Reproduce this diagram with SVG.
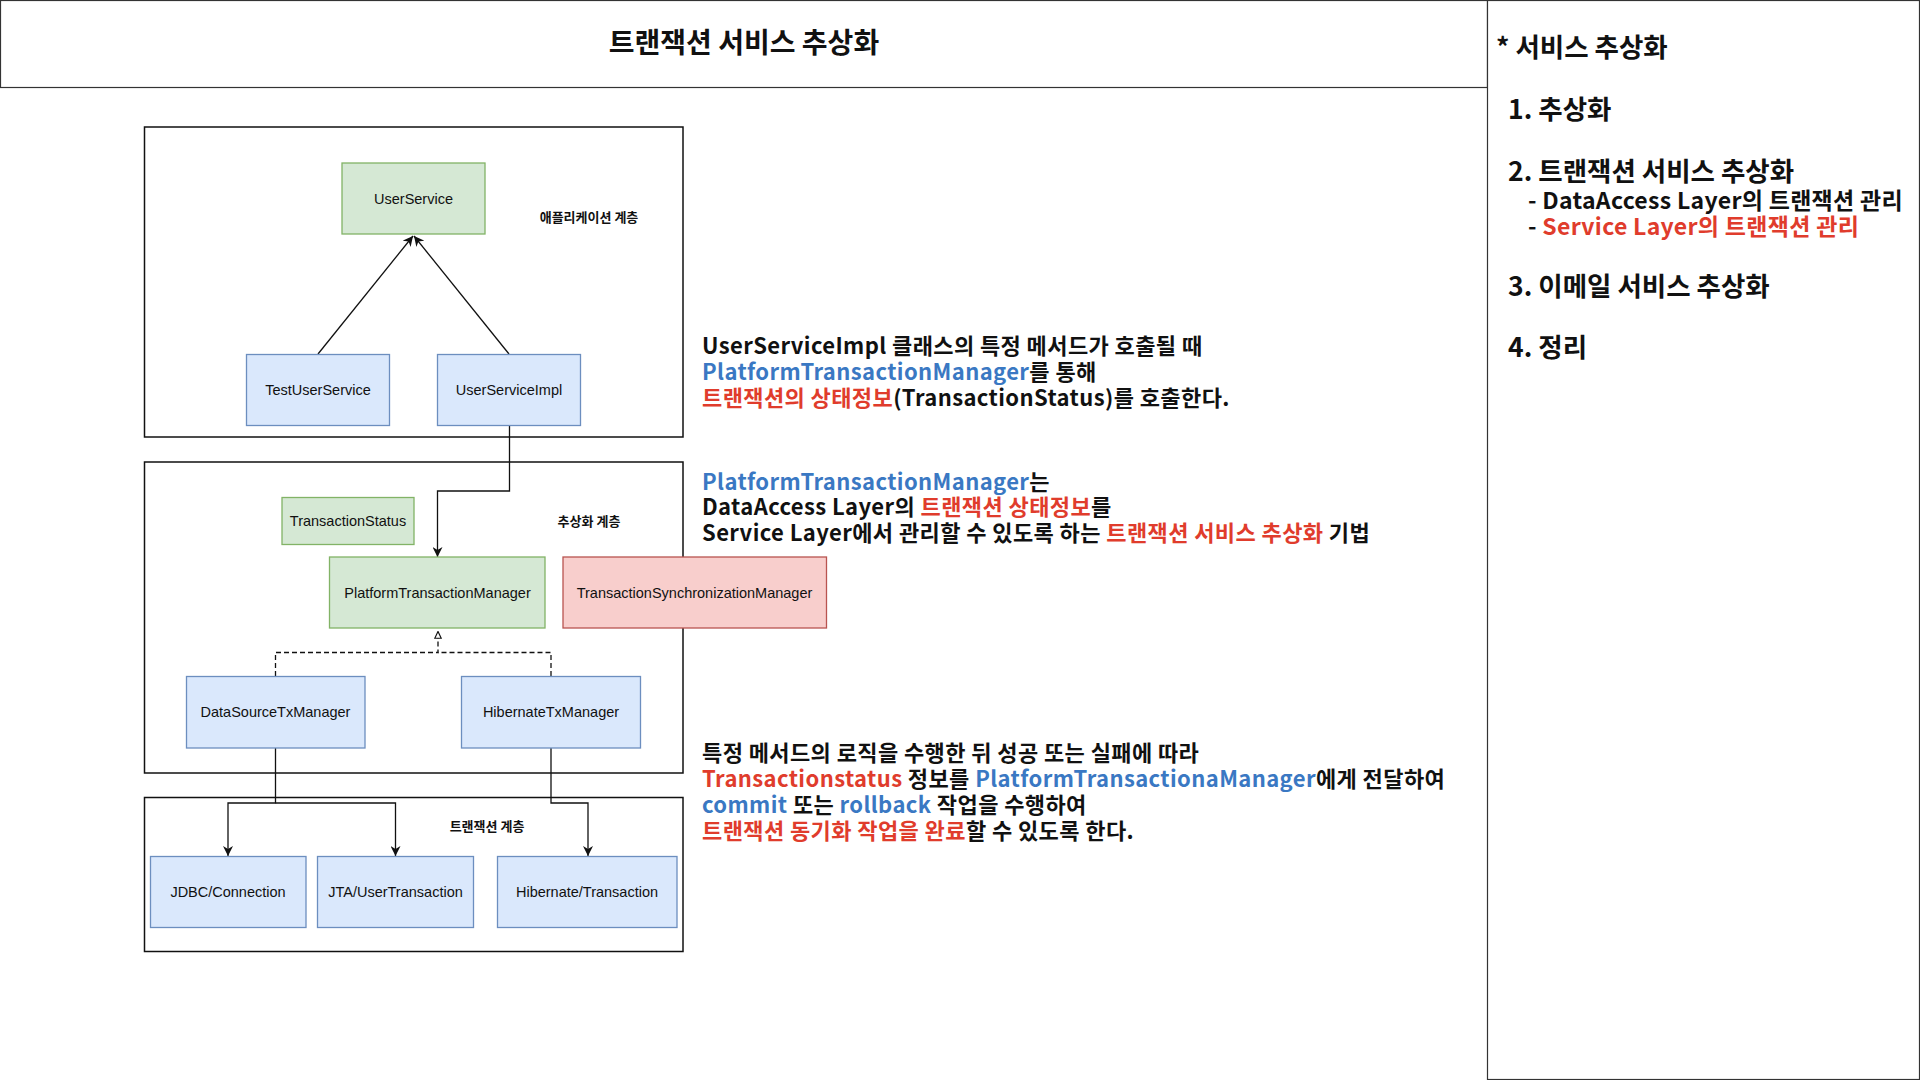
<svg xmlns="http://www.w3.org/2000/svg" width="1920" height="1080" viewBox="0 0 1920 1080">
  <style>
    .frame { fill: #ffffff; stroke: #333333; stroke-width: 1.2; }
    .layer { fill: none; stroke: #111111; stroke-width: 1.5; }
    .green { fill: #d5e8d4; stroke: #82b366; stroke-width: 1.3; }
    .blue { fill: #dae8fc; stroke: #6c8ebf; stroke-width: 1.3; }
    .red { fill: #f8cecc; stroke: #b85450; stroke-width: 1.3; }
    .lbl { font-family: "Liberation Sans", Arial, sans-serif; font-size: 14.5px; fill: #111111; text-anchor: middle; }
    .layer-lbl { font-family: "Noto Sans CJK KR", sans-serif; font-weight: 700; font-size: 13px; fill: #111111; text-anchor: middle; }
    .note { font-family: "Noto Sans CJK KR", sans-serif; font-weight: 700; font-size: 22px; letter-spacing: 0.4px; fill: #111111; }
    .sub { font-family: "Noto Sans CJK KR", sans-serif; font-weight: 700; font-size: 23px; letter-spacing: 0.3px; fill: #111111; }
    .head { font-family: "Noto Sans CJK KR", sans-serif; font-weight: 700; font-size: 26.5px; fill: #111111; }
    .title { font-family: "Noto Sans CJK KR", sans-serif; font-weight: 700; font-size: 28px; fill: #111111; text-anchor: middle; }
    .b { fill: #3a78c3; }
    .r { fill: #e03c2c; }
    .edge { fill: none; stroke: #111111; stroke-width: 1.3; }
    .dash { stroke-dasharray: 5 3; }
  </style>
  <defs>
    <marker id="arrow" viewBox="0 0 10 10" refX="10" refY="5" markerWidth="10" markerHeight="10" markerUnits="userSpaceOnUse" orient="auto">
      <path d="M0,0 L10,5 L0,10 L3,5 z" fill="#111111"/>
    </marker>
    <marker id="realize" viewBox="0 0 10 10" refX="10" refY="5" markerWidth="9" markerHeight="8" markerUnits="userSpaceOnUse" orient="auto">
      <path d="M1,1 L9.5,5 L1,9 z" fill="#ffffff" stroke="#111111" stroke-width="1.4"/>
    </marker>
  </defs>

  <rect width="1920" height="1080" fill="#ffffff"/>

  <!-- page frame: title bar and side index panel -->
  <rect class="frame" x="0.5" y="0.5" width="1487" height="87"/>
  <rect class="frame" x="1487.5" y="0.5" width="432" height="1079"/>
  <text class="title" x="744" y="53">트랜잭션 서비스 추상화</text>

  <!-- layer containers -->
  <g id="layer-application">
    <rect class="layer" x="144.5" y="127" width="538.5" height="310"/>
    <text class="layer-lbl" x="589" y="222">애플리케이션 계층</text>
  </g>
  <g id="layer-abstraction">
    <rect class="layer" x="144.5" y="462" width="538.5" height="311"/>
    <text class="layer-lbl" x="589" y="526">추상화 계층</text>
  </g>
  <g id="layer-transaction">
    <rect class="layer" x="144.5" y="797.5" width="538.5" height="154"/>
    <text class="layer-lbl" x="487" y="831">트랜잭션 계층</text>
  </g>

  <!-- connectors -->
  <g id="connectors">
    <path class="edge" d="M318,354 L413,236" marker-end="url(#arrow)"/>
    <path class="edge" d="M509,354 L414,236" marker-end="url(#arrow)"/>
    <path class="edge" d="M509.5,426 V491 H437.5 V557" marker-end="url(#arrow)"/>
    <path class="edge dash" d="M275.5,676 V652.5 H438 V631" marker-end="url(#realize)"/>
    <path class="edge dash" d="M551,676 V652.5 H438"/>
    <path class="edge" d="M275.5,748 V803 H228 V856" marker-end="url(#arrow)"/>
    <path class="edge" d="M275.5,803 H395.5 V856" marker-end="url(#arrow)"/>
    <path class="edge" d="M551,748 V803 H588 V856" marker-end="url(#arrow)"/>
  </g>

  <!-- nodes -->
  <g id="user-service">
    <rect class="green" x="342" y="163" width="143" height="71"/>
    <text class="lbl" x="413.5" y="203.5">UserService</text>
  </g>
  <g id="test-user-service">
    <rect class="blue" x="246.5" y="354.5" width="143" height="71"/>
    <text class="lbl" x="318" y="395">TestUserService</text>
  </g>
  <g id="user-service-impl">
    <rect class="blue" x="437.5" y="354.5" width="143" height="71"/>
    <text class="lbl" x="509" y="395">UserServiceImpl</text>
  </g>
  <g id="transaction-status">
    <rect class="green" x="282" y="497.5" width="132" height="47"/>
    <text class="lbl" x="348" y="526">TransactionStatus</text>
  </g>
  <g id="platform-transaction-manager">
    <rect class="green" x="329.5" y="557" width="215.5" height="71"/>
    <text class="lbl" x="437.5" y="597.5">PlatformTransactionManager</text>
  </g>
  <g id="transaction-synchronization-manager">
    <rect class="red" x="563" y="557" width="263.5" height="71"/>
    <text class="lbl" x="694.5" y="597.5">TransactionSynchronizationManager</text>
  </g>
  <g id="datasource-tx-manager">
    <rect class="blue" x="186.5" y="676.5" width="178.5" height="71.5"/>
    <text class="lbl" x="275.5" y="717">DataSourceTxManager</text>
  </g>
  <g id="hibernate-tx-manager">
    <rect class="blue" x="461.5" y="676.5" width="179" height="71.5"/>
    <text class="lbl" x="551" y="717">HibernateTxManager</text>
  </g>
  <g id="jdbc-connection">
    <rect class="blue" x="150.5" y="856.5" width="155.5" height="71"/>
    <text class="lbl" x="228" y="897">JDBC/Connection</text>
  </g>
  <g id="jta-user-transaction">
    <rect class="blue" x="317.5" y="856.5" width="156" height="71"/>
    <text class="lbl" x="395.5" y="897">JTA/UserTransaction</text>
  </g>
  <g id="hibernate-transaction">
    <rect class="blue" x="497.5" y="856.5" width="179.5" height="71"/>
    <text class="lbl" x="587" y="897">Hibernate/Transaction</text>
  </g>

  <!-- explanatory notes -->
  <g id="note-call">
    <text class="note" x="702" y="354">UserServiceImpl 클래스의 특정 메서드가 호출될 때</text>
    <text class="note" x="702" y="380"><tspan class="b">PlatformTransactionManager</tspan>를 통해</text>
    <text class="note" x="702" y="406"><tspan class="r">트랜잭션의 상태정보</tspan>(TransactionStatus)를 호출한다.</text>
  </g>
  <g id="note-abstraction">
    <text class="note" x="702" y="490"><tspan class="b">PlatformTransactionManager</tspan>는</text>
    <text class="note" x="702" y="515">DataAccess Layer의 <tspan class="r">트랜잭션 상태정보</tspan>를</text>
    <text class="note" x="702" y="541">Service Layer에서 관리할 수 있도록 하는 <tspan class="r">트랜잭션 서비스 추상화</tspan> 기법</text>
  </g>
  <g id="note-sync">
    <text class="note" x="702" y="761">특정 메서드의 로직을 수행한 뒤 성공 또는 실패에 따라</text>
    <text class="note" x="702" y="787"><tspan class="r">Transactionstatus</tspan> 정보를 <tspan class="b">PlatformTransactionaManager</tspan>에게 전달하여</text>
    <text class="note" x="702" y="813"><tspan class="b">commit</tspan> 또는 <tspan class="b">rollback</tspan> 작업을 수행하여</text>
    <text class="note" x="702" y="839"><tspan class="r">트랜잭션 동기화 작업을 완료</tspan>할 수 있도록 한다.</text>
  </g>

  <!-- side index -->
  <g id="index">
    <text class="head" x="1496" y="57">* 서비스 추상화</text>
    <text class="head" x="1508" y="119">1. 추상화</text>
    <text class="head" x="1508" y="181">2. 트랜잭션 서비스 추상화</text>
    <text class="sub" x="1528" y="209">- DataAccess Layer의 트랜잭션 관리</text>
    <text class="sub" x="1528" y="235">- <tspan class="r">Service Layer의 트랜잭션 관리</tspan></text>
    <text class="head" x="1508" y="296">3. 이메일 서비스 추상화</text>
    <text class="head" x="1508" y="357">4. 정리</text>
  </g>
</svg>
